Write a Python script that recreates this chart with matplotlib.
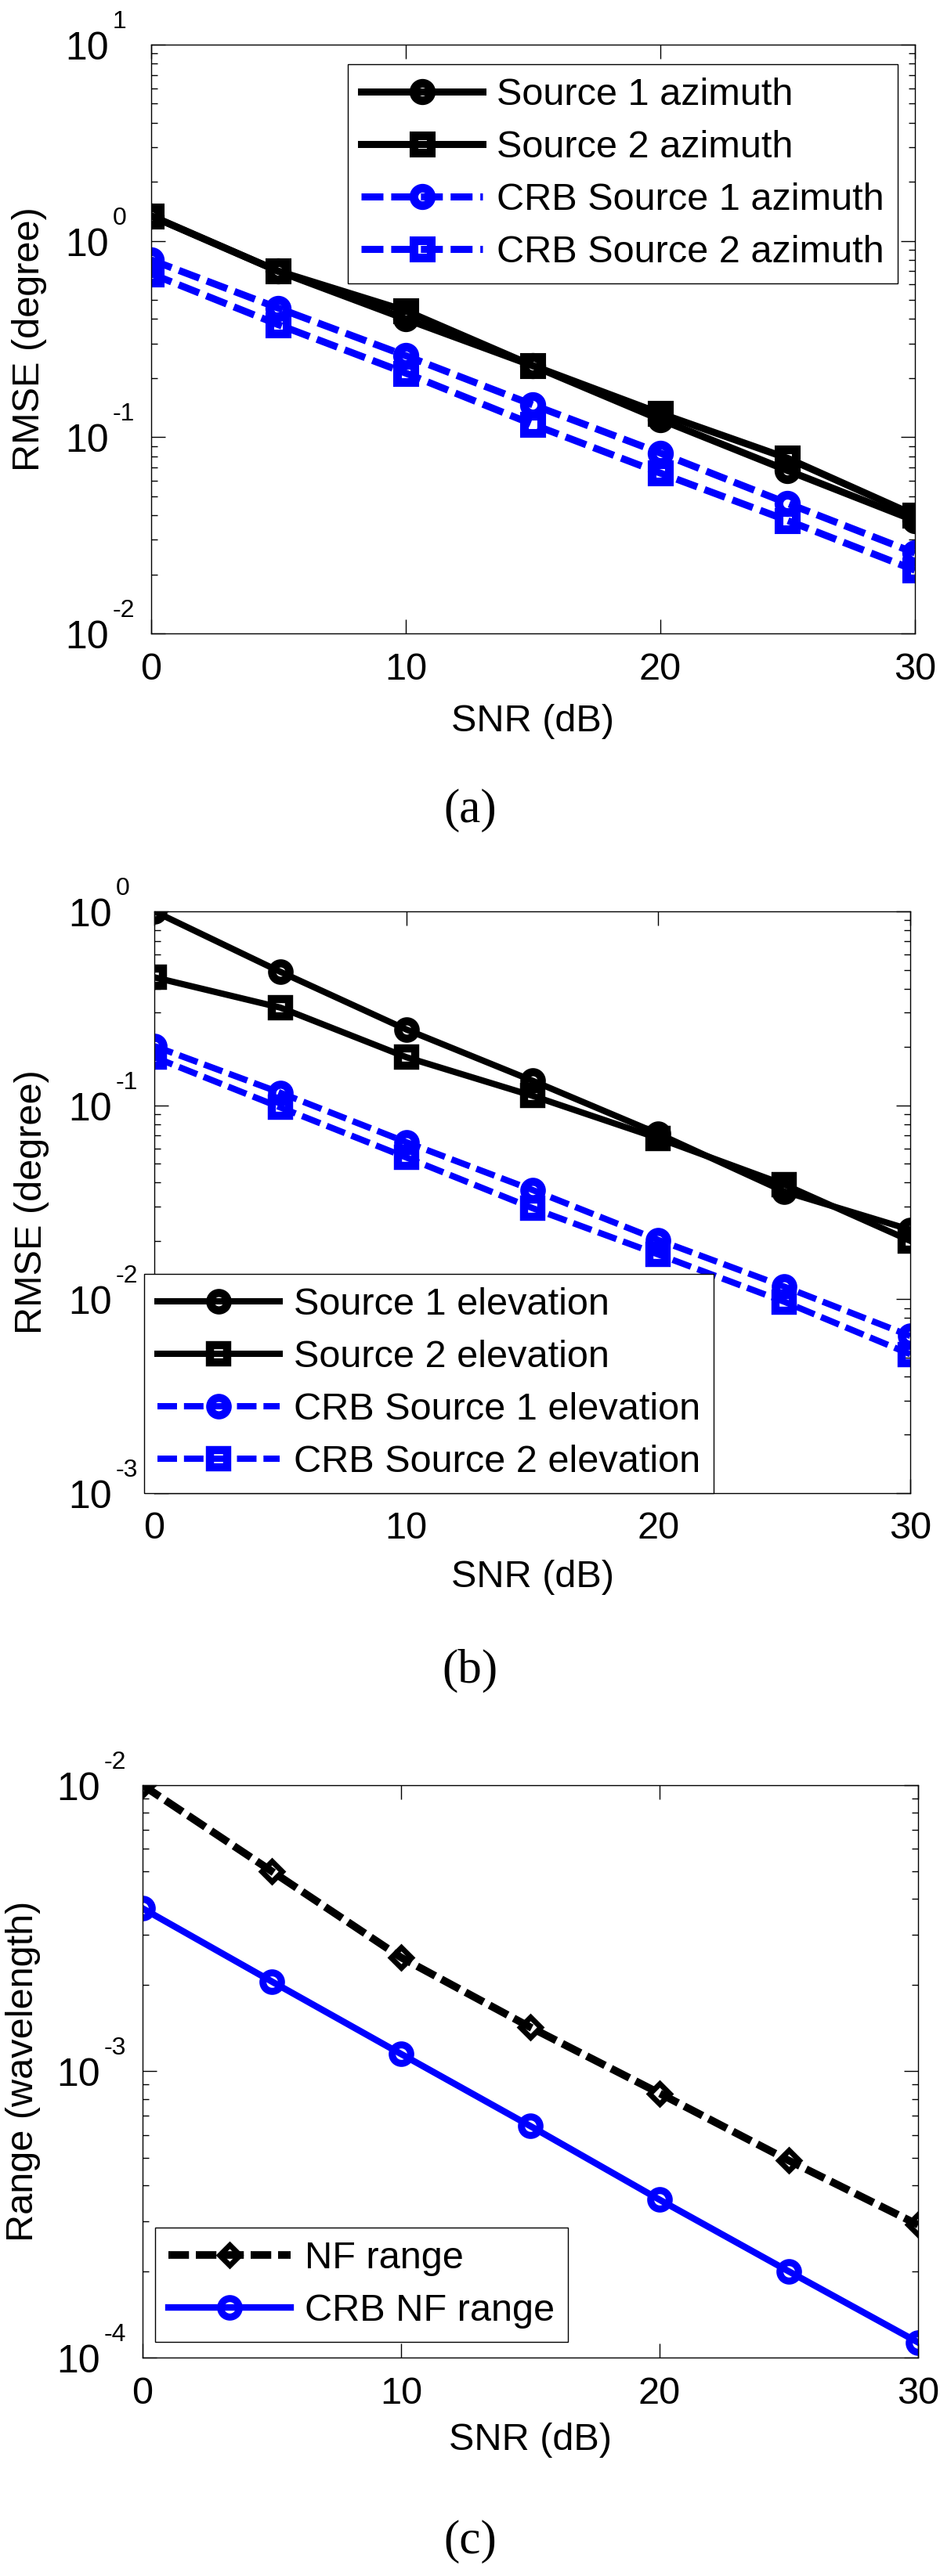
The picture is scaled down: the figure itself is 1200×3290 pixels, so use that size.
import numpy as np
import matplotlib
matplotlib.use("Agg")
import matplotlib.pyplot as plt
from matplotlib.ticker import LogLocator, NullFormatter, FixedLocator
from matplotlib.transforms import offset_copy

plt.rcParams["font.family"] = ["Liberation Sans", "DejaVu Sans"]

snr = [0, 5, 10, 15, 20, 25, 30]

# (a) azimuth RMSE
az_src1 = [1.34, 0.70, 0.40, 0.231, 0.123, 0.0676, 0.0376]
az_src2 = [1.34, 0.70, 0.44, 0.231, 0.132, 0.078, 0.040]
az_crb1 = [0.80, 0.454, 0.26, 0.146, 0.083, 0.046, 0.0257]
az_crb2 = [0.68, 0.374, 0.212, 0.116, 0.0656, 0.0376, 0.021]

# (b) elevation RMSE
el_src1 = [1.0, 0.488, 0.246, 0.134, 0.0713, 0.0359, 0.0228]
el_src2 = [0.457, 0.319, 0.177, 0.112, 0.0676, 0.039, 0.020]
el_crb1 = [0.202, 0.116, 0.0645, 0.0366, 0.0202, 0.0116, 0.00646]
el_crb2 = [0.177, 0.0975, 0.0538, 0.0295, 0.017, 0.0097, 0.0052]

# (c) near-field range
nf_range = [0.0100, 0.0050, 0.0025, 0.001426, 0.000838, 0.000488, 0.000291]
nf_crb = [0.00371, 0.00206, 0.00115, 0.000644, 0.000356, 0.0002, 0.000113]

FS = 35
BLUE = "#0000ff"
SERIF = ["Liberation Serif", "DejaVu Serif"]

fig = plt.figure(figsize=(12, 32.9), dpi=100)


def log_labels(ax, exps):
    # MATLAB-style "10" with a raised exponent
    tr = ax.get_yaxis_transform()
    base_tr = offset_copy(tr, fig=fig, x=-54, y=-19, units="dots")
    exp_tr = offset_copy(tr, fig=fig, x=-49, y=21, units="dots")
    for e in exps:
        ax.text(0, 10.0 ** e, "10", transform=base_tr, ha="right", va="baseline",
                fontsize=36, clip_on=False)
        ax.text(0, 10.0 ** e, str(e), transform=exp_tr, ha="left", va="baseline",
                fontsize=23, clip_on=False)


def style_axis(ax, exps, ylabel, xlab_y, ylab_x):
    ax.set_yscale("log")
    ax.set_xlim(0, 30)
    ax.set_ylim(10.0 ** exps[0], 10.0 ** exps[-1])
    ax.xaxis.set_major_locator(FixedLocator([0, 10, 20, 30]))
    ax.yaxis.set_major_locator(LogLocator(base=10, numticks=20))
    ax.yaxis.set_major_formatter(NullFormatter())
    ax.yaxis.set_minor_locator(LogLocator(base=10, subs=np.arange(2, 10), numticks=20))
    ax.yaxis.set_minor_formatter(NullFormatter())
    ax.tick_params(which="both", direction="in", top=True, right=True, labelsize=FS,
                   width=1.0)
    ax.tick_params(which="major", length=13)
    ax.tick_params(which="minor", length=6)
    ax.tick_params(axis="x", pad=17)
    for s in ax.spines.values():
        s.set_linewidth(1.0)
    log_labels(ax, exps)
    ax.set_xlabel("SNR (dB)", fontsize=FS)
    ax.set_ylabel(ylabel, fontsize=FS)
    ax.xaxis.set_label_coords(0.5, xlab_y)
    ax.yaxis.set_label_coords(ylab_x, 0.5)


def legend(ax, loc, bbox):
    leg = ax.legend(loc=loc, bbox_to_anchor=bbox, fontsize=FS, frameon=True, fancybox=False,
                    edgecolor="black", framealpha=1, handlelength=3.2, borderaxespad=0,
                    labelspacing=0.45, borderpad=0.35, handletextpad=0.37)
    leg.get_frame().set_linewidth(1.0)
    return leg


# panel (a)
ax1 = fig.add_axes([0.1608, 0.7541, 0.8125, 0.2286])
mk = dict(markersize=16, markerfacecolor="none", markeredgewidth=8)
dash = (3.1, 1.1)
ax1.plot(snr, az_src1, "-o", color="black", lw=6.5, label="Source 1 azimuth", **mk)
ax1.plot(snr, az_src2, "-s", color="black", lw=6.5, label="Source 2 azimuth", **mk)
ax1.plot(snr, az_crb1, "--o", color=BLUE, lw=6.5, dashes=dash, label="CRB Source 1 azimuth", **mk)
ax1.plot(snr, az_crb2, "--s", color=BLUE, lw=6.5, dashes=dash, label="CRB Source 2 azimuth", **mk)
style_axis(ax1, [-2, -1, 0, 1], "RMSE (degree)", -0.12, -0.136)
legend(ax1, "upper right", (0.9774, 0.9668))
fig.text(0.5, 1 - 1035 / 3290, "(a)", ha="center", va="center", fontsize=44, family=SERIF)

# panel (b)
ax2 = fig.add_axes([0.1642, 0.4204, 0.8042, 0.2258])
mk = dict(markersize=16, markerfacecolor="none", markeredgewidth=7.5)
ax2.plot(snr, el_src1, "-o", color="black", lw=5.8, label="Source 1 elevation", **mk)
ax2.plot(snr, el_src2, "-s", color="black", lw=5.8, label="Source 2 elevation", **mk)
ax2.plot(snr, el_crb1, "--o", color=BLUE, lw=5.8, dashes=dash, label="CRB Source 1 elevation", **mk)
ax2.plot(snr, el_crb2, "--s", color=BLUE, lw=5.8, dashes=dash, label="CRB Source 2 elevation", **mk)
style_axis(ax2, [-3, -2, -1, 0], "RMSE (degree)", -0.114, -0.139)
legend(ax2, "lower left", (-0.0135, 0.0))
fig.text(0.5, 1 - 2134 / 3290, "(b)", ha="center", va="center", fontsize=44, family=SERIF)

# panel (c)
ax3 = fig.add_axes([0.1517, 0.0848, 0.825, 0.2222])
ax3.plot(snr, nf_range, "--D", color="black", lw=7, dashes=(2.7, 0.9), label="NF range",
         markersize=13, markerfacecolor="none", markeredgewidth=5)
ax3.plot(snr, nf_crb, "-o", color=BLUE, lw=6, label="CRB NF range",
         markersize=17, markerfacecolor="none", markeredgewidth=6.5)
style_axis(ax3, [-4, -3, -2], "Range (wavelength)", -0.1135, -0.131)
legend(ax3, "lower left", (0.0162, 0.0274))
fig.text(0.5, 1 - 3246 / 3290, "(c)", ha="center", va="center", fontsize=44, family=SERIF)

fig.savefig("out.png", dpi=100, facecolor="white")
